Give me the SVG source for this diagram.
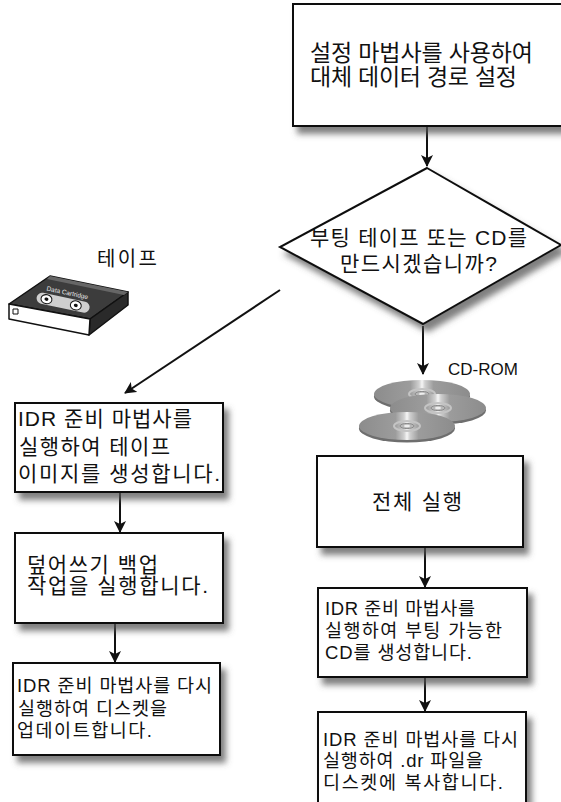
<svg xmlns="http://www.w3.org/2000/svg" width="561" height="802" viewBox="0 0 561 802">
  <style>
    .box { fill: #ffffff; stroke: #111111; stroke-width: 2; }
    .lbl { font-family: "Liberation Sans", "Noto Sans CJK KR", sans-serif; fill: #111111; }
    .edge { stroke: #111111; stroke-width: 2; fill: none; }
    .cap { font-family: "Liberation Sans", "Noto Sans CJK KR", sans-serif; fill: #111111; }
  </style>
  <defs>
    <filter id="shadow" x="-10%" y="-10%" width="130%" height="140%">
      <feGaussianBlur in="SourceAlpha" stdDeviation="3"/>
      <feOffset dx="5" dy="7" result="b"/>
      <feFlood flood-color="#555555" flood-opacity="0.75"/>
      <feComposite in2="b" operator="in"/>
      <feMerge>
        <feMergeNode/>
        <feMergeNode in="SourceGraphic"/>
      </feMerge>
    </filter>
    <marker id="arrow" viewBox="0 0 12 12" refX="11" refY="6" markerWidth="12" markerHeight="12" markerUnits="userSpaceOnUse" orient="auto">
      <path d="M0,0 L12,6 L0,12 L3,6 Z" fill="#111111"/>
    </marker>
    <linearGradient id="disc" x1="0" y1="0" x2="1" y2="0">
      <stop offset="0" stop-color="#8c8c8c"/>
      <stop offset="0.38" stop-color="#9c9c9c"/>
      <stop offset="0.47" stop-color="#d0d0d0"/>
      <stop offset="0.5" stop-color="#f6f6f6"/>
      <stop offset="0.53" stop-color="#d0d0d0"/>
      <stop offset="0.62" stop-color="#9c9c9c"/>
      <stop offset="1" stop-color="#8c8c8c"/>
    </linearGradient>
    <g id="cd">
      <ellipse cx="0" cy="2.5" rx="48" ry="14" fill="#6e6e6e"/>
      <ellipse cx="0" cy="0" rx="48" ry="14" fill="url(#disc)"/>
      <ellipse cx="0" cy="0" rx="13" ry="5" fill="none" stroke="#c4c4c4" stroke-width="2"/>
      <ellipse cx="0" cy="0" rx="7" ry="2.6" fill="#b8b8b8" stroke="#8a8a8a" stroke-width="1"/>
      <ellipse cx="0" cy="0" rx="3" ry="1.2" fill="#eeeeee"/>
    </g>
  </defs>

  <!-- connectors -->
  <g id="connectors">
    <line class="edge" x1="427" y1="127" x2="427" y2="166" marker-end="url(#arrow)"/>
    <line class="edge" x1="280" y1="290" x2="125" y2="393" marker-end="url(#arrow)"/>
    <line class="edge" x1="423" y1="326" x2="423" y2="374" marker-end="url(#arrow)"/>
    <line class="edge" x1="120" y1="493" x2="120" y2="532" marker-end="url(#arrow)"/>
    <line class="edge" x1="115" y1="624" x2="115" y2="662" marker-end="url(#arrow)"/>
    <line class="edge" x1="425" y1="548" x2="425" y2="587" marker-end="url(#arrow)"/>
    <line class="edge" x1="425" y1="678" x2="425" y2="711" marker-end="url(#arrow)"/>
  </g>

  <!-- setup wizard step -->
  <g id="setup">
    <rect class="box" x="293" y="4" width="275" height="122" filter="url(#shadow)"/>
    <text class="lbl" font-size="23" x="310" y="61" textLength="223" lengthAdjust="spacing">설정 마법사를 사용하여</text>
    <text class="lbl" font-size="23" x="310" y="85" textLength="207" lengthAdjust="spacing">대체 데이터 경로 설정</text>
  </g>

  <!-- decision -->
  <g id="decision">
    <polygon class="box" points="427,168 561,245 423,324 280,247" filter="url(#shadow)"/>
    <text class="lbl" font-size="21" x="310" y="245" textLength="217" lengthAdjust="spacing">부팅 테이프 또는 CD를</text>
    <text class="lbl" font-size="21" x="340" y="271" textLength="157" lengthAdjust="spacing">만드시겠습니까?</text>
  </g>

  <!-- tape branch label and cartridge -->
  <g id="tape">
    <text class="cap" font-size="20" x="97" y="266" textLength="60" lengthAdjust="spacing">테이프</text>
    <g stroke="#111111" stroke-width="1.5" stroke-linejoin="round">
      <polygon points="9,304 50,276 128,292 90,319" fill="#3c3c3c"/>
      <polygon points="90,319 128,292 128,305 89,335" fill="#2a2a2a"/>
      <polygon points="9,304 90,319 89,335 9,319" fill="#ffffff"/>
      <rect x="13" y="309" width="5" height="5" fill="#ffffff" stroke-width="1"/>
    </g>
    <polygon points="50,276 128,292 124,295 47,279" fill="#666666"/>
    <g transform="rotate(12 62 303)">
      <rect x="36" y="297" width="54" height="11" rx="5.5" fill="#cfcfcf"/>
      <ellipse cx="46" cy="302.5" rx="5.5" ry="4.5" fill="#ffffff" stroke="#111111" stroke-width="1"/>
      <ellipse cx="46" cy="302.5" rx="2" ry="1.7" fill="#111111"/>
      <ellipse cx="76" cy="302.5" rx="5.5" ry="4.5" fill="#ffffff" stroke="#111111" stroke-width="1"/>
      <ellipse cx="76" cy="302.5" rx="2" ry="1.7" fill="#111111"/>
      <text x="44" y="294" font-family="Liberation Sans, sans-serif" font-size="6.5" fill="#e6e6e6">Data Cartridge</text>
    </g>
  </g>

  <!-- CD-ROM branch label and discs -->
  <g id="cdrom">
    <text class="cap" font-size="17" x="448" y="375">CD-ROM</text>
    <use href="#cd" x="422" y="394"/>
    <use href="#cd" x="438" y="408"/>
    <use href="#cd" x="407" y="426"/>
  </g>

  <!-- tape path -->
  <g id="tape-image">
    <rect class="box" x="15" y="403" width="208" height="89" filter="url(#shadow)"/>
    <text class="lbl" font-size="21" x="18" y="426" textLength="174" lengthAdjust="spacing">IDR 준비 마법사를</text>
    <text class="lbl" font-size="21" x="19" y="454" textLength="151" lengthAdjust="spacing">실행하여 테이프</text>
    <text class="lbl" font-size="21" x="18" y="481" textLength="202" lengthAdjust="spacing">이미지를 생성합니다.</text>
  </g>
  <g id="overwrite">
    <rect class="box" x="15" y="533" width="208" height="90" filter="url(#shadow)"/>
    <text class="lbl" font-size="21" x="27" y="572" textLength="131" lengthAdjust="spacing">덮어쓰기 백업</text>
    <text class="lbl" font-size="21" x="27" y="593" textLength="181" lengthAdjust="spacing">작업을 실행합니다.</text>
  </g>
  <g id="tape-update">
    <rect class="box" x="13" y="663" width="207" height="92" filter="url(#shadow)"/>
    <text class="lbl" font-size="18.5" x="17" y="692" textLength="195" lengthAdjust="spacing">IDR 준비 마법사를 다시</text>
    <text class="lbl" font-size="18.5" x="18" y="715" textLength="149" lengthAdjust="spacing">실행하여 디스켓을</text>
    <text class="lbl" font-size="18.5" x="17" y="737" textLength="135" lengthAdjust="spacing">업데이트합니다.</text>
  </g>

  <!-- CD path -->
  <g id="full-run">
    <rect class="box" x="317" y="456" width="206" height="91" filter="url(#shadow)"/>
    <text class="lbl" font-size="21" x="372" y="509" textLength="90" lengthAdjust="spacing">전체 실행</text>
  </g>
  <g id="boot-cd">
    <rect class="box" x="318" y="588" width="209" height="89" filter="url(#shadow)"/>
    <text class="lbl" font-size="18.5" x="325" y="615" textLength="150" lengthAdjust="spacing">IDR 준비 마법사를</text>
    <text class="lbl" font-size="18.5" x="325" y="637" textLength="177" lengthAdjust="spacing">실행하여 부팅 가능한</text>
    <text class="lbl" font-size="18.5" x="325" y="659" textLength="147" lengthAdjust="spacing">CD를 생성합니다.</text>
  </g>
  <g id="cd-copy">
    <rect class="box" x="318" y="712" width="208" height="96" filter="url(#shadow)"/>
    <text class="lbl" font-size="18.5" x="323" y="746" textLength="195" lengthAdjust="spacing">IDR 준비 마법사를 다시</text>
    <text class="lbl" font-size="18.5" x="323" y="767" textLength="160" lengthAdjust="spacing">실행하여 .dr 파일을</text>
    <text class="lbl" font-size="18.5" x="323" y="789" textLength="180" lengthAdjust="spacing">디스켓에 복사합니다.</text>
  </g>
</svg>
